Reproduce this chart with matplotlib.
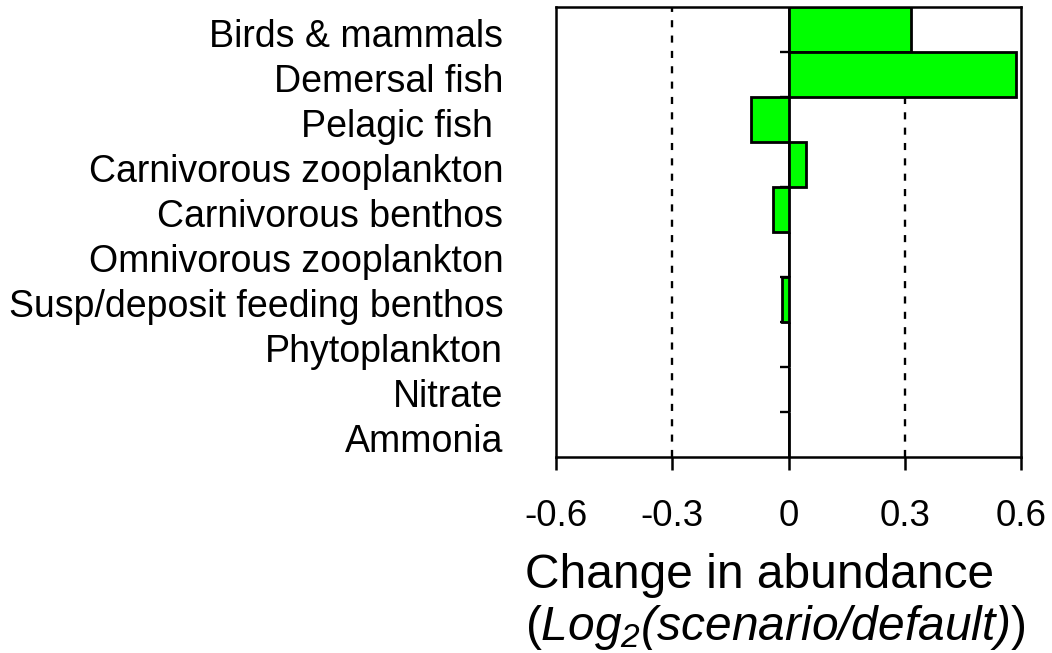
import numpy as np
import matplotlib
matplotlib.use("Agg")
import matplotlib.pyplot as plt
from matplotlib.transforms import ScaledTranslation

plt.rcParams['font.family'] = ['Liberation Sans', 'DejaVu Sans']
plt.rcParams['mathtext.fontset'] = 'custom'
# everything inside $...$ is italic in the axis title (brackets and slash too)
plt.rcParams['mathtext.rm'] = 'Liberation Sans:italic'
plt.rcParams['mathtext.it'] = 'Liberation Sans:italic'

# Groups, top to bottom
groups = ['Birds & mammals', 'Demersal fish', 'Pelagic fish ', 'Carnivorous zooplankton',
          'Carnivorous benthos', 'Omnivorous zooplankton', 'Susp/deposit feeding benthos',
          'Phytoplankton', 'Nitrate', 'Ammonia']
# log2(scenario/default)
change = [0.316, 0.588, -0.097, 0.045, -0.039, 0.0, -0.016, 0.0, 0.0, 0.0]
x_ticks = [-0.6, -0.3, 0, 0.3, 0.6]
x_tick_labels = ['-0.6', '-0.3', '0', '0.3', '0.6']

fig = plt.figure(figsize=(10.52, 6.53), dpi=100)
ax = fig.add_axes([556 / 1052, 1 - 457 / 653, 465 / 1052, 450 / 653])

ypos = np.arange(len(groups))
ax.barh(ypos, change, height=1.0, color='#00ff00', edgecolor='black', linewidth=2.0, zorder=3)

# reference lines
for xv in [-0.3, 0.3]:
    ax.axvline(xv, color='black', linewidth=1.7, linestyle=(0, (3.0, 3.5)), zorder=1)
ax.axvline(0, color='black', linewidth=1.2, zorder=2)
# little ticks on the zero axis between groups
bounds = ypos[:-1] + 0.5
ax.hlines(bounds, -0.021, 0, color='black', linewidth=1.7, zorder=2)

ax.set_xlim(-0.6, 0.6)
ax.set_ylim(len(groups) - 0.5, -0.5)

ax.set_xticks(x_ticks)
ax.set_xticklabels(x_tick_labels, fontsize=26.5)
ax.tick_params(axis='x', direction='out', length=9.5, width=1.8, pad=21)
ax.set_yticks(ypos)
ax.set_yticklabels(groups, fontsize=27)
ax.tick_params(axis='y', length=0, pad=38)
for lab in ax.get_yticklabels():
    lab.set_transform(lab.get_transform() + ScaledTranslation(0, -0.035, fig.dpi_scale_trans))

for sp in ax.spines.values():
    sp.set_linewidth(1.8)

fig.text(525 / 1052, 1 - 588 / 653, 'Change in abundance', fontsize=34.5, ha='left', va='baseline')
fig.text(525 / 1052, 1 - 640 / 653, r'($Log_2(scenario/default)$)', fontsize=34.5,
         ha='left', va='baseline')

fig.savefig('out.png', dpi=100)
